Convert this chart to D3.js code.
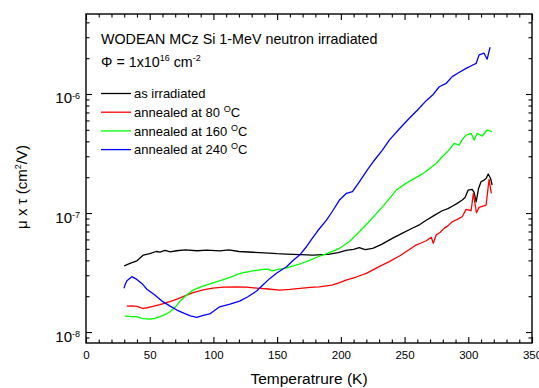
<!DOCTYPE html>
<html>
<head>
<meta charset="utf-8">
<script src="https://cdn.jsdelivr.net/npm/d3@7"></script>
<style>
body { margin: 0; background: #fff; }
svg { display: block; font-family: "Liberation Sans", Arial, sans-serif; }
</style>
</head>
<body>
<div id="chart"></div>
<script>
// temperature (K) and mu*tau (cm^2/V)
const tempIrr = [30, 35, 40, 45, 50, 55, 58, 62, 66, 71, 78, 87, 95, 105, 112, 120, 131, 140, 150, 157, 168, 178, 190, 198, 204, 210, 214.5, 219, 225, 232, 240, 248, 256, 262, 267, 273, 279.5, 284, 287.4, 291, 295, 297.5, 299.9, 303, 304.5, 306.2, 308, 310, 312.4, 314, 315.6, 317.5, 318.7];
const mtIrr = [3.6e-8, 3.8e-8, 3.97e-8, 4.43e-8, 4.55e-8, 4.75e-8, 4.7e-8, 4.85e-8, 4.72e-8, 4.82e-8, 4.9e-8, 4.82e-8, 4.87e-8, 4.8e-8, 4.9e-8, 4.75e-8, 4.68e-8, 4.62e-8, 4.55e-8, 4.52e-8, 4.47e-8, 4.43e-8, 4.5e-8, 4.65e-8, 4.85e-8, 4.95e-8, 5.11e-8, 4.92e-8, 5.05e-8, 5.45e-8, 6.1e-8, 6.75e-8, 7.45e-8, 8.0e-8, 8.7e-8, 9.5e-8, 1.045e-7, 1.09e-7, 1.14e-7, 1.2e-7, 1.28e-7, 1.35e-7, 1.56e-7, 1.58e-7, 1.5e-7, 1.24e-7, 1.6e-7, 1.83e-7, 1.89e-7, 1.95e-7, 2.13e-7, 1.95e-7, 1.72e-7];

const tempAnn80 = [32, 36, 40, 44.6, 48, 52.5, 58, 65.8, 72, 78, 84, 92, 99.4, 108, 118, 126, 134, 143, 152, 160, 168, 176, 183, 193, 199, 204, 212, 220, 230, 238, 246, 252, 259, 263, 267, 271, 272.5, 274.8, 278, 281, 284, 287.4, 291, 295.2, 298.3, 302.2, 304, 306.4, 308.5, 314, 316.3, 318.1];
const mtAnn80 = [1.65e-8, 1.66e-8, 1.64e-8, 1.58e-8, 1.6e-8, 1.64e-8, 1.7e-8, 1.8e-8, 1.9e-8, 2.02e-8, 2.14e-8, 2.26e-8, 2.34e-8, 2.38e-8, 2.4e-8, 2.38e-8, 2.34e-8, 2.3e-8, 2.25e-8, 2.28e-8, 2.33e-8, 2.37e-8, 2.4e-8, 2.48e-8, 2.6e-8, 2.73e-8, 2.9e-8, 3.11e-8, 3.54e-8, 3.9e-8, 4.35e-8, 4.8e-8, 5.38e-8, 5.6e-8, 5.85e-8, 6.25e-8, 5.56e-8, 6.53e-8, 6.9e-8, 7.43e-8, 7.8e-8, 8.45e-8, 8.8e-8, 9.31e-8, 1.074e-7, 1.045e-7, 1.465e-7, 1.005e-7, 1.116e-7, 1.167e-7, 1.92e-7, 1.465e-7];

const tempAnn160 = [30.5, 36, 40, 44.6, 50, 54, 58, 62, 66, 70, 74, 79, 84, 91, 99, 106, 113, 121, 130, 139, 143, 146, 152, 157, 162, 168, 175, 181, 190, 199, 207, 214.5, 221, 228, 236, 243.5, 252, 264, 270, 275, 279.5, 284, 288.9, 292.9, 295, 298.3, 302.2, 304.6, 307, 310.9, 314.8, 318.7];
const mtAnn160 = [1.36e-8, 1.35e-8, 1.345e-8, 1.295e-8, 1.286e-8, 1.3e-8, 1.345e-8, 1.4e-8, 1.48e-8, 1.62e-8, 1.82e-8, 2.05e-8, 2.25e-8, 2.42e-8, 2.58e-8, 2.72e-8, 2.88e-8, 3.11e-8, 3.25e-8, 3.36e-8, 3.38e-8, 3.27e-8, 3.38e-8, 3.45e-8, 3.58e-8, 3.73e-8, 3.98e-8, 4.25e-8, 4.6e-8, 5.05e-8, 5.8e-8, 6.97e-8, 8.2e-8, 9.93e-8, 1.24e-7, 1.56e-7, 1.8e-7, 2.13e-7, 2.38e-7, 2.62e-7, 2.97e-7, 3.3e-7, 3.85e-7, 3.72e-7, 4.1e-7, 4.52e-7, 4.67e-7, 4.1e-7, 4.67e-7, 4.44e-7, 4.98e-7, 4.82e-7];

const tempAnn240 = [29.8, 31, 32.1, 36, 39.9, 44, 47.8, 54, 60.3, 66, 71.3, 76.7, 82, 86.9, 92, 97.1, 104.9, 113, 120.6, 127, 133.9, 139, 144.1, 150, 157.4, 162, 167.6, 173, 177, 181.7, 188.7, 193, 198.9, 204.4, 209.1, 214.5, 220.8, 226, 232.6, 238, 246, 253.7, 260, 267, 272, 277.2, 282.7, 287.4, 292, 298.3, 302, 306.2, 308.5, 312.4, 314.8, 317.1];
const mtAnn240 = [2.33e-8, 2.55e-8, 2.7e-8, 2.92e-8, 2.77e-8, 2.55e-8, 2.29e-8, 2.05e-8, 1.8e-8, 1.65e-8, 1.53e-8, 1.44e-8, 1.37e-8, 1.33e-8, 1.38e-8, 1.42e-8, 1.63e-8, 1.72e-8, 1.82e-8, 1.98e-8, 2.21e-8, 2.5e-8, 2.81e-8, 3.15e-8, 3.54e-8, 3.95e-8, 4.43e-8, 5.21e-8, 6.0e-8, 7.06e-8, 8.73e-8, 1.02e-7, 1.285e-7, 1.465e-7, 1.51e-7, 1.83e-7, 2.3e-7, 2.75e-7, 3.38e-7, 4.1e-7, 5.1e-7, 6.25e-7, 7.3e-7, 8.79e-7, 9.8e-7, 1.151e-6, 1.23e-6, 1.4e-6, 1.5e-6, 1.64e-6, 1.72e-6, 1.81e-6, 2.13e-6, 2.2e-6, 1.96e-6, 2.47e-6];

const seriesLabels = ['as irradiated', 'annealed at 80', 'annealed at 160', 'annealed at 240'];
const seriesColors = ['#000000', '#ff0000', '#00ff00', '#0000ff'];
const xTickValues = [0, 50, 100, 150, 200, 250, 300, 350];
const yTickExponents = [-8, -7, -6];

function drawChart() {
    const margin = {top: 14, right: 7, bottom: 45, left: 86};
    const width = 539 - margin.left - margin.right;
    const height = 388 - margin.top - margin.bottom;

    const svg = d3.select('#chart')
        .append('svg')
        .attr('width', width + margin.left + margin.right)
        .attr('height', height + margin.top + margin.bottom)
        .append('g')
        .attr('transform', `translate(${margin.left},${margin.top})`);

    const x = d3.scaleLinear().domain([0, 350]).range([0, width]);
    const y = d3.scaleLog().domain([8.09e-9, 4.7e-6]).range([height, 0]);

    const series = [
        {temps: tempIrr, vals: mtIrr},
        {temps: tempAnn80, vals: mtAnn80},
        {temps: tempAnn160, vals: mtAnn160},
        {temps: tempAnn240, vals: mtAnn240}
    ].map((s, i) => ({
        label: seriesLabels[i],
        color: seriesColors[i],
        points: s.temps.map((t, j) => [t, s.vals[j]])
    }));

    const xMinor = d3.range(0, 351, 10).filter(v => v % 50 !== 0);
    const yMajor = yTickExponents.map(e => Math.pow(10, e));
    const yMinor = [];
    [-9, -8, -7, -6].forEach(e => {
        for (let m = 2; m <= 9; m++) {
            const v = m * Math.pow(10, e);
            if (v >= y.domain()[0] && v <= y.domain()[1]) yMinor.push(v);
        }
    });

    // ticks point inward on all four sides
    const axisStyle = g => {
        g.select('.domain').remove();
        g.selectAll('.tick line').attr('stroke', '#000').attr('stroke-width', 1.1);
    };

    // bottom
    svg.append('g')
        .attr('transform', `translate(0,${height})`)
        .call(d3.axisBottom(x).tickValues(xTickValues).tickSize(-6).tickPadding(8))
        .call(axisStyle)
        .call(g => g.selectAll('.tick text')
            .attr('font-size', '11.5px')
            .attr('font-family', '"Liberation Sans", Arial, sans-serif')
            .attr('fill', '#000'));
    svg.append('g')
        .attr('transform', `translate(0,${height})`)
        .call(d3.axisBottom(x).tickValues(xMinor).tickSize(-3.5).tickFormat(''))
        .call(axisStyle);

    // top
    svg.append('g')
        .call(d3.axisTop(x).tickValues(xTickValues).tickSize(-6).tickFormat(''))
        .call(axisStyle);
    svg.append('g')
        .call(d3.axisTop(x).tickValues(xMinor).tickSize(-3.5).tickFormat(''))
        .call(axisStyle);

    // left
    svg.append('g')
        .call(d3.axisLeft(y).tickValues(yMajor).tickSize(-6).tickPadding(6).tickFormat(''))
        .call(axisStyle)
        .call(g => g.selectAll('.tick text')
            .attr('font-size', '15px')
            .attr('font-family', '"Liberation Sans", Arial, sans-serif')
            .attr('fill', '#000')
            .attr('dy', '0.6em')
            .each(function(d) {
                const t = d3.select(this);
                t.append('tspan').text('10');
                t.append('tspan')
                    .attr('dy', '-0.55em')
                    .attr('font-size', '9px')
                    .text(Math.round(Math.log10(d)));
            }));
    svg.append('g')
        .call(d3.axisLeft(y).tickValues(yMinor).tickSize(-3.5).tickFormat(''))
        .call(axisStyle);

    // right
    svg.append('g')
        .attr('transform', `translate(${width},0)`)
        .call(d3.axisRight(y).tickValues(yMajor).tickSize(-6).tickFormat(''))
        .call(axisStyle);
    svg.append('g')
        .attr('transform', `translate(${width},0)`)
        .call(d3.axisRight(y).tickValues(yMinor).tickSize(-3.5).tickFormat(''))
        .call(axisStyle);

    // frame
    svg.append('rect')
        .attr('width', width)
        .attr('height', height)
        .attr('fill', 'none')
        .attr('stroke', '#000')
        .attr('stroke-width', 1.4);

    const line = d3.line()
        .x(d => x(d[0]))
        .y(d => y(d[1]));

    svg.append('g')
        .selectAll('path')
        .data(series)
        .join('path')
        .attr('d', d => line(d.points))
        .attr('fill', 'none')
        .attr('stroke', d => d.color)
        .attr('stroke-width', 1.3)
        .attr('stroke-linejoin', 'round');

    // title
    svg.append('text')
        .attr('x', 15)
        .attr('y', 30)
        .attr('font-size', '14.3px')
        .text('WODEAN MCz Si 1-MeV neutron irradiated');

    const fluence = svg.append('text')
        .attr('x', 15)
        .attr('y', 52.5)
        .attr('font-size', '14.3px');
    fluence.append('tspan').text('\u03A6 = 1x10');
    fluence.append('tspan').attr('dy', '-6').attr('font-size', '9px').text('16');
    fluence.append('tspan').attr('dy', '6').text(' cm');
    fluence.append('tspan').attr('dy', '-6').attr('font-size', '9px').text('-2');

    // legend
    const legendItems = svg.append('g')
        .attr('transform', 'translate(15, 79.5)')
        .selectAll('.legend-item')
        .data(series)
        .join('g')
        .attr('class', 'legend-item')
        .attr('transform', (d, i) => `translate(0, ${i * 18.7})`);

    legendItems.append('line')
        .attr('x1', 0)
        .attr('x2', 30)
        .attr('stroke', d => d.color)
        .attr('stroke-width', 1.3);

    legendItems.append('text')
        .attr('x', 33)
        .attr('y', 4.7)
        .attr('font-size', '13px')
        .each(function(d, i) {
            const t = d3.select(this);
            if (i === 0) {
                t.text(d.label);
            } else {
                t.append('tspan').text(d.label + ' ');
                t.append('tspan').attr('dy', '-5').attr('font-size', '9px').text('O');
                t.append('tspan').attr('dy', '5').text('C');
            }
        });

    // X-axis label
    svg.append('text')
        .attr('x', width / 2)
        .attr('y', height + 40.5)
        .attr('text-anchor', 'middle')
        .attr('font-size', '15.5px')
        .text('Temperatrure (K)');

    // Y-axis label
    const yLabel = svg.append('text')
        .attr('transform', 'rotate(-90)')
        .attr('x', -173)
        .attr('y', -59)
        .attr('text-anchor', 'middle')
        .attr('font-size', '15px');
    yLabel.append('tspan').text('\u03BC x \u03C4 (cm');
    yLabel.append('tspan').attr('dy', '-6').attr('font-size', '9px').text('2');
    yLabel.append('tspan').attr('dy', '6').text('/V)');
}

drawChart();
</script>
</body>
</html>
